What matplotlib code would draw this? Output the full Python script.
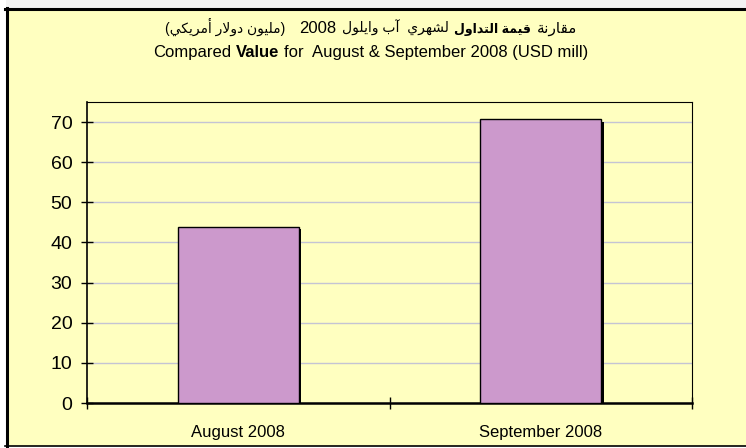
"""Bar chart: compared trading value, August vs September 2008 (USD mill)."""

import matplotlib
matplotlib.use("Agg")
import matplotlib.pyplot as plt
import matplotlib.patheffects as pe
from matplotlib.lines import Line2D
from matplotlib.patches import Rectangle

months = ["August 2008", "September 2008"]
values = [43.9, 70.7]
y_ticks = [0, 10, 20, 30, 40, 50, 60, 70]

ar_lead = "مقارنة"
ar_bold = "قيمة التداول"
ar_months = "لشهري  آب وايلول"
ar_year = "2008"
ar_unit = "مليون دولار أمريكي"
en_lead = "Compared"
en_bold = "Value"
en_tail = "for  August & September 2008 (USD mill)"

FONT = ["Liberation Sans", "DejaVu Sans"]
PANEL = "#ffffc0"
BAR = "#cc99cc"
GRID = "#c4c4d4"
W, H = 746, 448

# Arabic presentation forms: isolated, final, (initial, medial)
_FORMS = {
    "ا": "\ufe8d\ufe8e", "أ": "\ufe83\ufe84", "آ": "\ufe81\ufe82",
    "د": "\ufea9\ufeaa", "ر": "\ufead\ufeae", "و": "\ufeed\ufeee",
    "ة": "\ufe93\ufe94",
    "ب": "\ufe8f\ufe90\ufe91\ufe92", "ت": "\ufe95\ufe96\ufe97\ufe98",
    "ش": "\ufeb5\ufeb6\ufeb7\ufeb8", "ق": "\ufed5\ufed6\ufed7\ufed8",
    "ك": "\ufed9\ufeda\ufedb\ufedc", "ل": "\ufedd\ufede\ufedf\ufee0",
    "م": "\ufee1\ufee2\ufee3\ufee4", "ن": "\ufee5\ufee6\ufee7\ufee8",
    "ه": "\ufee9\ufeea\ufeeb\ufeec", "ي": "\ufef1\ufef2\ufef3\ufef4",
}
_LAM_ALEF = {"ا": "\ufefb\ufefc", "أ": "\ufef7\ufef8", "آ": "\ufef5\ufef6"}


def rtl(text):
    """Shape Arabic letters and reverse them into left-to-right visual order."""
    out = []
    i = 0
    while i < len(text):
        c = text[i]
        if c not in _FORMS:
            out.append(c)
            i += 1
            continue
        prev = text[i - 1] if i > 0 else ""
        nxt = text[i + 1] if i + 1 < len(text) else ""
        joins_prev = len(_FORMS.get(prev, "")) == 4
        if c == "ل" and nxt in _LAM_ALEF:
            out.append(_LAM_ALEF[nxt][1 if joins_prev else 0])
            i += 2
            continue
        forms = _FORMS[c]
        joins_next = len(forms) == 4 and nxt in _FORMS
        if joins_prev and joins_next:
            out.append(forms[3])
        elif joins_prev:
            out.append(forms[1])
        elif joins_next:
            out.append(forms[2])
        else:
            out.append(forms[0])
        i += 1
    return "".join(reversed(out))


def mixed_line(fig, y, parts, cx=371 / W):
    """Put (text, weight, size, gap_px_after) pieces side by side, centred at cx."""
    renderer = fig.canvas.get_renderer()
    texts = [
        fig.text(0, y, s, fontsize=size, fontweight=w, family=FONT,
                 ha="left", va="baseline")
        for s, w, size, _ in parts
    ]
    widths = [t.get_window_extent(renderer).width for t in texts]
    gaps = [p[3] for p in parts][:-1] + [0]
    total = sum(widths) + sum(gaps)
    x = cx * W - total / 2
    for t, w, g in zip(texts, widths, gaps):
        t.set_x(x / W)
        x += w + g


fig = plt.figure(figsize=(W / 100, H / 100), dpi=100, facecolor="white")

# chart area frame (behind the axes)
fig.add_artist(Rectangle((6 / W, (H - 8) / H), 1, 8 / H, transform=fig.transFigure,
                         facecolor="#f3f3f3", edgecolor="none", zorder=-3))
fig.add_artist(Rectangle((6 / W, 2 / H), 1, (H - 10) / H, transform=fig.transFigure,
                         facecolor=PANEL, edgecolor="none", zorder=-2))
fig.add_artist(Line2D([6.5 / W, 6.5 / W], [1.5 / H, (H - 8) / H],
                      transform=fig.transFigure, color="black", lw=2.2, zorder=-1))
fig.add_artist(Line2D([5 / W, 1], [(H - 9) / H, (H - 9) / H],
                      transform=fig.transFigure, color="black", lw=2.2, zorder=-1))
fig.add_artist(Line2D([5 / W, 1], [2 / H, 2 / H],
                      transform=fig.transFigure, color="black", lw=1.2, zorder=-1))

ax = fig.add_axes([87 / W, 45 / H, 605 / W, 301 / H])
ax.set_facecolor(PANEL)
x = list(range(len(months)))
shadow = [pe.SimplePatchShadow(offset=(1.8, -1.8), shadow_rgbFace="black", alpha=1),
          pe.Normal()]
ax.bar(x, values, width=0.4, color=BAR, edgecolor="black", linewidth=1,
       path_effects=shadow, zorder=3)

ax.set_xlim(-0.5, len(months) - 0.5)
ax.set_ylim(0, 75)
ax.set_yticks(y_ticks)
ax.yaxis.grid(True, color=GRID, linewidth=1)
ax.set_axisbelow(True)

ax.set_xticks([i - 0.5 for i in range(len(months) + 1)])
ax.set_xticklabels([])
ax.set_xticks(x, minor=True)
ax.set_xticklabels(months, minor=True, fontsize=12, family=FONT)
ax.tick_params(axis="both", which="major", direction="inout", length=9,
               width=1, color="black")
ax.tick_params(axis="y", labelsize=14, pad=6)
ax.tick_params(axis="x", which="minor", length=0, pad=16)
for lab in ax.get_yticklabels():
    lab.set_family(FONT)

for side, lw in (("left", 1.2), ("bottom", 1.8), ("top", 0.8), ("right", 0.8)):
    ax.spines[side].set_color("black")
    ax.spines[side].set_linewidth(lw)

mixed_line(fig, 1 - 33 / H, [
    ("(" + rtl(ar_unit) + ")", "normal", 10, 14),
    (ar_year, "normal", 12, 5),
    (rtl(ar_months), "normal", 10, 5),
    (rtl(ar_bold), "bold", 9, 6),
    (rtl(ar_lead), "normal", 11, 0),
])
mixed_line(fig, 1 - 57 / H, [
    (en_lead, "normal", 12, 4.6),
    (en_bold, "bold", 12, 4.6),
    (en_tail, "normal", 12, 0),
])

fig.savefig("out.png", dpi=100, facecolor=fig.get_facecolor())
